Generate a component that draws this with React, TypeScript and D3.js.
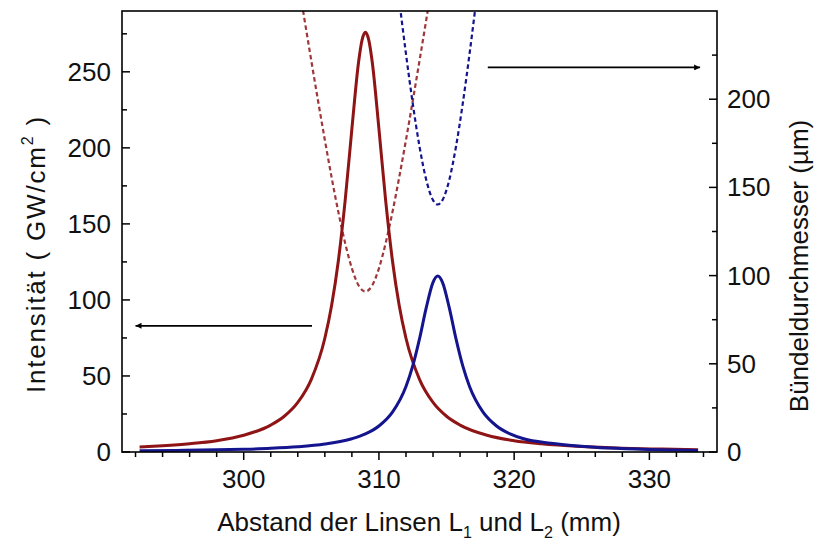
import React from "react";
import * as d3 from "d3";

// ---- data ----
const redX = [292.3, 294, 296, 298, 300, 302, 303, 304, 305, 306, 306.5, 307, 307.5, 308, 308.5, 308.75, 309, 309.25, 309.5, 310, 310.5, 311, 311.5, 312, 313, 314, 315, 316, 318, 320, 322, 325, 328, 331, 333.6];
const redI = [3.3, 4.1, 5.4, 7.4, 11.0, 17.7, 23.5, 32.6, 47.8, 74.8, 96.3, 125.8, 165.1, 212.5, 256.8, 270.9, 276, 270.9, 256.8, 212.5, 165.1, 125.8, 96.3, 74.8, 47.8, 32.6, 23.5, 17.7, 11.0, 7.4, 5.4, 3.6, 2.5, 1.9, 1.5];

const blueX = [292.3, 295, 298, 300, 302, 304, 306, 308, 309, 310, 311, 312, 312.5, 313, 313.5, 314, 314.35, 314.7, 315.2, 315.7, 316.2, 316.7, 317.7, 318.7, 319.7, 320.7, 322.7, 324.7, 327, 330, 333.6];
const blueI = [0.8, 1.0, 1.4, 1.8, 2.4, 3.4, 5.2, 8.7, 11.9, 17.1, 26.2, 43.1, 56.6, 74.4, 94.9, 111.6, 115.8, 111.6, 94.9, 74.4, 56.6, 43.1, 26.2, 17.1, 11.9, 8.7, 5.8, 4.0, 2.6, 1.6, 1.0];

const redDX = [304.3, 304.5, 305, 305.5, 306, 306.5, 307, 307.5, 308, 308.5, 309, 309.5, 310, 310.5, 311, 311.5, 312, 312.5, 313, 313.5, 313.7];
const redD = [254.5, 245, 221.8, 199, 176.9, 155.7, 136, 118.5, 104.1, 94.4, 91, 94.4, 104.1, 118.5, 136, 155.7, 176.9, 199, 221.8, 245, 254.5];

const blueDX = [311.55, 311.75, 312, 312.5, 313, 313.5, 314, 314.35, 314.7, 315.2, 315.7, 316.2, 316.7, 316.95, 317.15];
const blueD = [253, 240.7, 225.7, 197.6, 173.2, 154.2, 142.8, 140.3, 142.8, 154.2, 173.2, 197.6, 225.7, 240.7, 253];

const xMajor = [300, 310, 320, 330];
const xMinor = [292, 294, 296, 298, 302, 304, 306, 308, 312, 314, 316, 318, 322, 324, 326, 328, 332, 334];
const yLeftMajor = [0, 50, 100, 150, 200, 250];
const yLeftMinor = [25, 75, 125, 175, 225, 275];
const yRightMajor = [0, 50, 100, 150, 200];
const yRightMinor = [25, 75, 125, 175, 225];

// arrows: [x start, x end (tip), y value]
const leftArrow = [305.05, 292.0, 83];
const rightArrow = [318.05, 333.75, 218];

const RED = "#8e1416";
const BLUE = "#14148e";
const FONT = "'Liberation Sans', Arial, sans-serif";

export default function App() {
  const L = 122, R = 717, T = 11, B = 452;
  const x = d3.scaleLinear().domain([291, 335]).range([L, R]);
  const yL = d3.scaleLinear().domain([0, 290]).range([B, T]);
  const yR = d3.scaleLinear().domain([0, 250]).range([B, T]);

  const mk = (xs: number[], ys: number[], ys2: (v: number) => number) =>
    d3.line<number>().x((_, i) => x(xs[i])).y((v) => ys2(v)).curve(d3.curveMonotoneX)(ys) || "";

  const redPath = mk(redX, redI, yL);
  const bluePath = mk(blueX, blueI, yL);
  const redDPath = mk(redDX, redD, yR);
  const blueDPath = mk(blueDX, blueD, yR);

  const fs = 26;
  const sub = 16;

  return (
    <svg width={816} height={545} style={{ position: "absolute", left: 0, top: 0, background: "#fff" }} fontFamily={FONT}>
      <defs>
        <clipPath id="plot">
          <rect x={L} y={T} width={R - L} height={B - T} />
        </clipPath>
        <marker id="ah" viewBox="0 0 10 10" refX={10} refY={5} markerWidth={9} markerHeight={6} markerUnits="userSpaceOnUse" orient="auto">
          <path d="M0,0 L10,5 L0,10 Z" fill="#000" />
        </marker>
      </defs>

      {/* curves */}
      <g clipPath="url(#plot)" fill="none">
        <path d={redDPath} stroke={RED} strokeWidth={2.2} strokeDasharray="4.5,3" opacity={0.85} />
        <path d={blueDPath} stroke={BLUE} strokeWidth={2.2} strokeDasharray="4.5,3" />
        <path d={redPath} stroke={RED} strokeWidth={3} />
        <path d={bluePath} stroke={BLUE} strokeWidth={3} />
      </g>

      {/* arrows */}
      <line x1={x(leftArrow[0])} x2={x(leftArrow[1])} y1={yL(leftArrow[2])} y2={yL(leftArrow[2])} stroke="#000" strokeWidth={1.8} markerEnd="url(#ah)" />
      <line x1={x(rightArrow[0])} x2={x(rightArrow[1])} y1={yR(rightArrow[2])} y2={yR(rightArrow[2])} stroke="#000" strokeWidth={1.8} markerEnd="url(#ah)" />

      {/* frame */}
      <rect x={L} y={T} width={R - L} height={B - T} fill="none" stroke="#000" strokeWidth={1.6} />

      {/* x ticks (outward) */}
      {xMajor.map((v) => (
        <g key={"xM" + v}>
          <line x1={x(v)} x2={x(v)} y1={B} y2={B + 8} stroke="#000" strokeWidth={1.5} />
          <text x={x(v)} y={B + 36} fontSize={fs} textAnchor="middle" fill="#111">{v}</text>
        </g>
      ))}
      {xMinor.map((v) => (
        <line key={"xm" + v} x1={x(v)} x2={x(v)} y1={B} y2={B + 5} stroke="#000" strokeWidth={1.5} />
      ))}

      {/* left y ticks (inward) */}
      {yLeftMajor.map((v) => (
        <g key={"lM" + v}>
          <line x1={L} x2={L + 8} y1={yL(v)} y2={yL(v)} stroke="#000" strokeWidth={1.5} />
          <text x={L - 11} y={yL(v) + 9} fontSize={fs} textAnchor="end" fill="#111">{v}</text>
        </g>
      ))}
      {yLeftMinor.map((v) => (
        <line key={"lm" + v} x1={L} x2={L + 5} y1={yL(v)} y2={yL(v)} stroke="#000" strokeWidth={1.5} />
      ))}

      {/* right y ticks (inward) */}
      {yRightMajor.map((v) => (
        <g key={"rM" + v}>
          <line x1={R} x2={R - 8} y1={yR(v)} y2={yR(v)} stroke="#000" strokeWidth={1.5} />
          <text x={R + 10} y={yR(v) + 9} fontSize={fs} textAnchor="start" fill="#111">{v}</text>
        </g>
      ))}
      {yRightMinor.map((v) => (
        <line key={"rm" + v} x1={R} x2={R - 5} y1={yR(v)} y2={yR(v)} stroke="#000" strokeWidth={1.5} />
      ))}

      {/* axis titles */}
      <text x={419} y={531} fontSize={fs} textAnchor="middle" fill="#111">
        Abstand der Linsen L<tspan fontSize={sub} dy={7}>1</tspan><tspan dy={-7}> und L</tspan><tspan fontSize={sub} dy={7}>2</tspan><tspan dy={-7}> (mm)</tspan>
      </text>
      <text transform={`translate(45, 393) rotate(-90)`} fontSize={fs} textAnchor="start" fill="#111" letterSpacing={1.8}>
        {"Intensität ( GW/cm"}<tspan fontSize={sub} dy={-12}>2</tspan><tspan dy={12}>{" )"}</tspan>
      </text>
      <text transform={`translate(808, 266) rotate(-90)`} fontSize={fs} textAnchor="middle" fill="#111">
        Bündeldurchmesser (µm)
      </text>
    </svg>
  );
}
